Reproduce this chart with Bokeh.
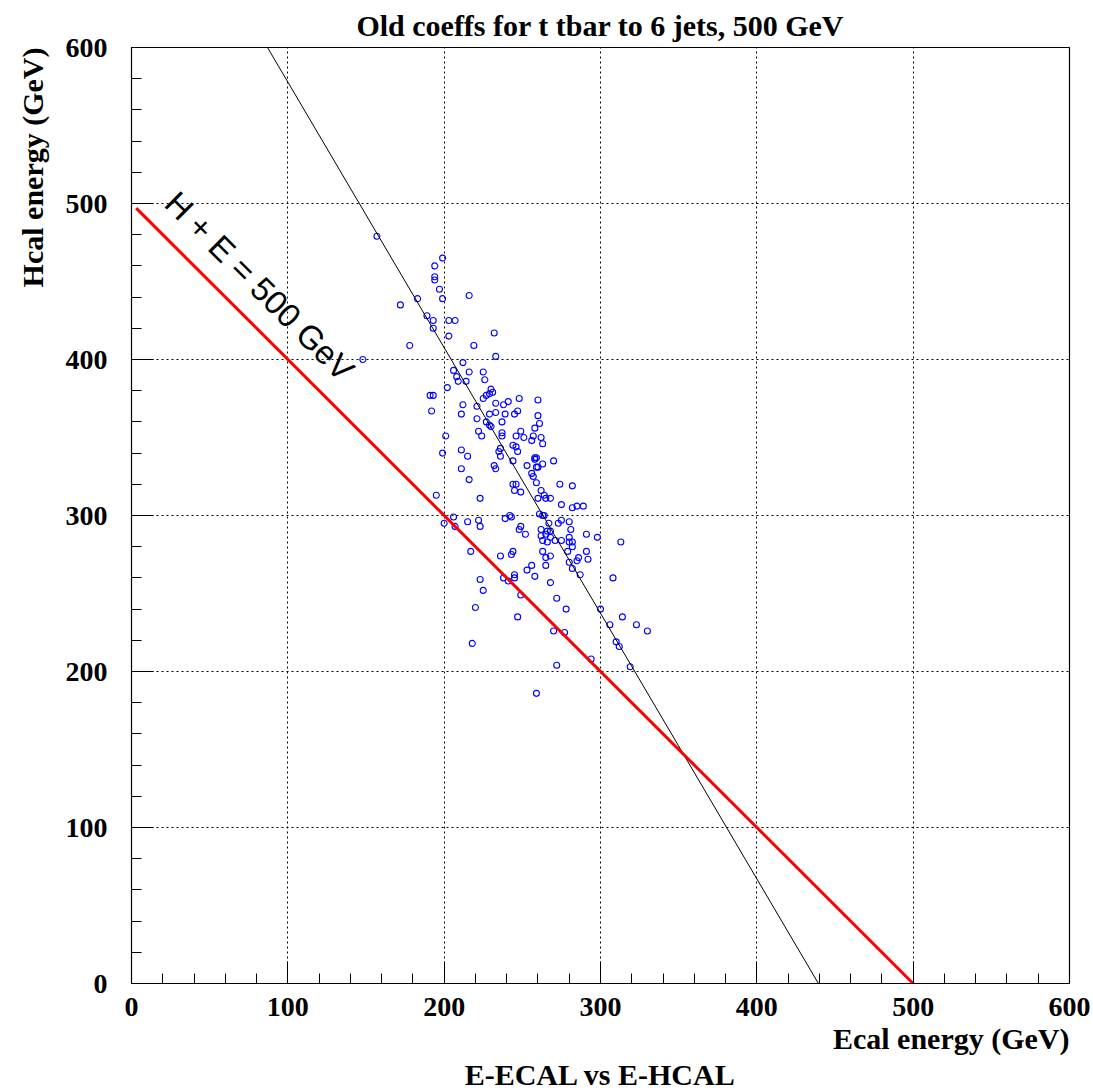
import math
from bokeh.plotting import figure
from bokeh.models import Range1d, FixedTicker, Label, ColumnDataSource, Title
from bokeh.embed import file_html
from bokeh.resources import INLINE

# ---- data ----
ecal = [157, 199, 194, 194, 194, 197, 199, 183, 216, 172, 189, 193, 203, 207, 193, 203, 178, 219, 232, 233,
        148, 212, 206, 216, 225, 208, 209, 214, 226, 230, 231, 229, 227, 225, 202, 191, 193, 233, 238, 241,
        248, 260, 212, 221, 192, 211, 221, 229, 233, 239, 245, 247, 227, 229, 230, 237, 260, 261, 258, 222,
        224, 201, 237, 237, 249, 246, 251, 256, 262, 263, 244, 246, 236, 235, 211, 215, 236, 247, 199, 244,
        258, 259, 258, 253, 260, 256, 257, 259, 232, 233, 211, 216, 244, 246, 245, 249, 260, 223, 195, 206,
        242, 243, 239, 263, 270, 200, 207, 215, 222, 223, 217, 236, 243, 244, 248, 249, 252, 223, 225, 238,
        241, 245, 245, 253, 256, 258, 249, 220, 247, 218, 268, 272, 278, 270, 277, 272, 259, 261, 264, 275,
        273, 275, 267, 262, 266, 268, 262, 265, 268, 263, 266, 271, 275, 263, 265, 268, 265, 280, 274, 282,
        262, 264, 265, 268, 282, 285, 289, 263, 281, 280, 282, 282, 291, 298, 313, 279, 291, 292, 286, 285,
        282, 287, 280, 308, 300, 314, 306, 323, 330, 310, 312, 294, 319, 259, 257, 280]
hcal = [479, 465, 460, 453, 451, 445, 439, 439, 441, 435, 428, 425, 425, 425, 420, 415, 409, 409, 417, 402,
        400, 398, 393, 392, 392, 389, 386, 386, 387, 381, 379, 378, 377, 375, 382, 377, 377, 372, 371, 373,
        375, 374, 371, 370, 367, 365, 362, 365, 366, 365, 365, 367, 360, 358, 357, 360, 364, 359, 356, 354,
        351, 351, 353, 351, 354, 351, 350, 348, 350, 346, 345, 344, 343, 341, 342, 338, 338, 341, 340, 335,
        337, 337, 336, 332, 331, 327, 325, 321, 332, 330, 330, 323, 320, 320, 316, 315, 311, 311, 313, 299,
        300, 299, 298, 333, 335, 295, 293, 296, 297, 293, 277, 274, 275, 277, 291, 293, 288, 259, 252, 260,
        258, 260, 262, 265, 268, 261, 249, 241, 235, 218, 257, 247, 240, 226, 225, 204, 186, 301, 300, 307,
        295, 297, 295, 291, 290, 290, 287, 288, 286, 284, 283, 284, 284, 277, 273, 274, 268, 296, 320, 319,
        316, 313, 311, 311, 305, 306, 306, 300, 291, 286, 283, 280, 288, 286, 283, 277, 277, 272, 273, 271,
        266, 262, 270, 260, 240, 235, 230, 230, 226, 219, 216, 208, 203, 331, 351, 283]

# straight lines
fit_x = [87, 439.4]          # thin black line
fit_y = [600, 0]
sum_x = [3, 500]             # H + E = 500 GeV
sum_y = [497, 0]

major_ticks = [0, 100, 200, 300, 400, 500, 600]
minor_ticks = list(range(0, 601, 20))
grid_ticks = [100, 200, 300, 400, 500]

title_text = "Old coeffs for t tbar to 6 jets, 500 GeV"
xlabel_text = "Ecal energy (GeV)"
ylabel_text = "Hcal energy (GeV)"
caption_text = "E-ECAL vs E-HCAL"
line_text = "H + E = 500 GeV"

SERIF = "Liberation Serif"
SANS = "Liberation Sans"

p = figure(width=1093, height=1090, x_range=Range1d(0, 600), y_range=Range1d(0, 600),
           output_backend="svg", toolbar_location=None,
           min_border_left=131, min_border_right=24, min_border_top=47, min_border_bottom=105)
p.background_fill_color = "white"
p.border_fill_color = "white"
p.outline_line_color = "black"
p.outline_line_width = 1.2

p.title.text = title_text
p.title.align = "center"
p.title.vertical_align = "bottom"
p.title.text_font = SERIF
p.title.text_font_style = "bold"
p.title.text_font_size = "30px"
p.title.text_color = "black"
p.title.standoff = 12

for ax in (p.xaxis[0], p.yaxis[0]):
    ax.ticker = FixedTicker(ticks=major_ticks, minor_ticks=minor_ticks)
    ax.major_tick_in = 22
    ax.major_tick_out = 0
    ax.minor_tick_in = 10
    ax.minor_tick_out = 0
    ax.axis_line_color = "black"
    ax.major_tick_line_color = "black"
    ax.minor_tick_line_color = "black"
    ax.major_label_text_font = SERIF
    ax.major_label_text_font_style = "bold"
    ax.major_label_text_font_size = "28px"
    ax.major_label_text_color = "black"
p.xaxis[0].major_label_standoff = 14
p.yaxis[0].major_label_standoff = 24

for g in (p.xgrid[0], p.ygrid[0]):
    g.ticker = FixedTicker(ticks=grid_ticks)
    g.grid_line_color = "black"
    g.grid_line_dash = "2 3"
    g.grid_line_width = 1

src = ColumnDataSource(dict(x=ecal, y=hcal))
p.scatter("x", "y", source=src, marker="circle", size=6, fill_color=None,
          line_color="#0000ff", line_width=1.1)
p.line(fit_x, fit_y, line_color="black", line_width=1)
p.line(sum_x, sum_y, line_color="#ff0000", line_width=3)

p.add_layout(Label(x=82, y=447, text=line_text, angle=-math.pi / 4,
                   text_align="center", text_baseline="middle",
                   text_font=SANS, text_font_size="33px", text_color="black"))

p.add_layout(Title(text=xlabel_text, align="right", standoff=2,
                   text_font=SERIF, text_font_style="bold", text_font_size="30px",
                   text_color="black"), "below")
p.add_layout(Title(text=caption_text, align="center", standoff=0,
                   text_font=SERIF, text_font_style="bold", text_font_size="30px",
                   text_color="black"), "below")
p.add_layout(Title(text=ylabel_text, align="right", standoff=27,
                   text_font=SERIF, text_font_style="bold", text_font_size="30px",
                   text_color="black"), "left")

open("out.html", "w").write(file_html(p, INLINE))
